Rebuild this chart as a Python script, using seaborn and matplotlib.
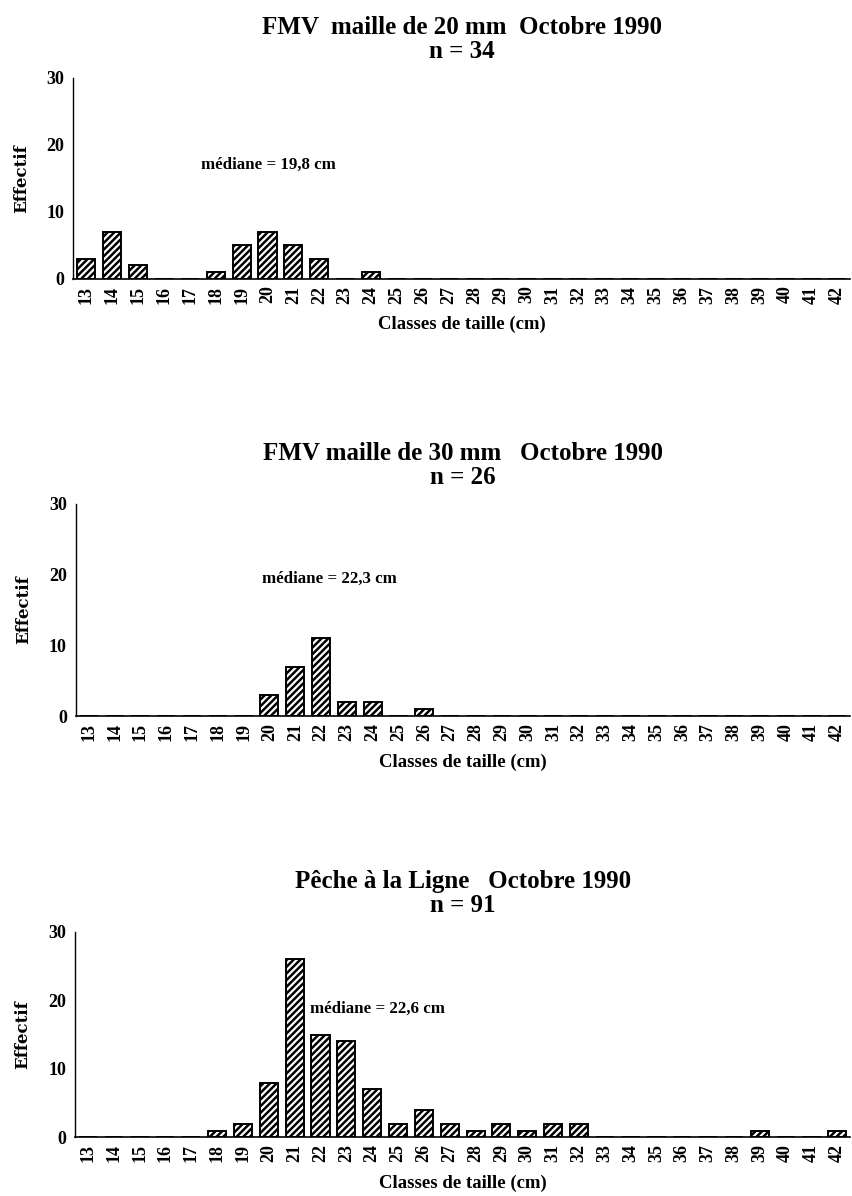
import pandas as pd
import seaborn as sns
import matplotlib.pyplot as plt
from matplotlib.ticker import FixedLocator

# size classes (cm) shared by the three panels
classes = ['13', '14', '15', '16', '17', '18', '19', '20', '21', '22',
           '23', '24', '25', '26', '27', '28', '29', '30', '31', '32',
           '33', '34', '35', '36', '37', '38', '39', '40', '41', '42']

counts_20mm = [3, 7, 2, 0, 0, 1, 5, 7, 5, 3,
               0, 1, 0, 0, 0, 0, 0, 0, 0, 0,
               0, 0, 0, 0, 0, 0, 0, 0, 0, 0]
counts_30mm = [0, 0, 0, 0, 0, 0, 0, 3, 7, 11,
               2, 2, 0, 1, 0, 0, 0, 0, 0, 0,
               0, 0, 0, 0, 0, 0, 0, 0, 0, 0]
counts_ligne = [0, 0, 0, 0, 0, 1, 2, 8, 26, 15,
                14, 7, 2, 4, 2, 1, 2, 1, 2, 2,
                0, 0, 0, 0, 0, 0, 1, 0, 0, 1]

titles = ['FMV  maille de 20 mm  Octobre 1990\nn = 34',
          'FMV maille de 30 mm   Octobre 1990\nn = 26',
          'Pêche à la Ligne   Octobre 1990\nn = 91']
medians = ['médiane = 19,8 cm', 'médiane = 22,3 cm', 'médiane = 22,6 cm']
median_pos = [(4.45, 17.0), (6.7, 19.4), (8.6, 18.7)]

sns.set_style('white')
plt.rcParams['font.family'] = ['Liberation Serif', 'DejaVu Serif']
plt.rcParams['font.weight'] = 'bold'
plt.rcParams['hatch.linewidth'] = 1.8
for key in ['text.color', 'axes.labelcolor', 'xtick.color', 'ytick.color', 'axes.edgecolor']:
    plt.rcParams[key] = 'black'

fig = plt.figure(figsize=(8.52, 11.96), dpi=100)
axes_pos = [[0.086, 0.767, 0.912, 0.168],
            [0.089, 0.401, 0.909, 0.178],
            [0.088, 0.049, 0.910, 0.172]]

for i, counts in enumerate([counts_20mm, counts_30mm, counts_ligne]):
    ax = fig.add_axes(axes_pos[i])
    df = pd.DataFrame({'classe': classes, 'effectif': counts})
    sns.barplot(data=df, x='classe', y='effectif', order=classes, ax=ax,
                color='white', edgecolor='black', linewidth=1.4,
                hatch='/////', width=0.7, saturation=1)
    ax.set_xlim(-0.5, len(classes) - 0.5)
    ax.set_ylim(0, 30)
    ax.set_yticks([0, 10, 20, 30])
    ax.tick_params(axis='y', direction='inout', length=5, width=1,
                   labelsize=13, pad=4)
    ax.tick_params(axis='x', which='major', length=0, labelsize=13,
                   labelrotation=90, pad=5)
    ax.xaxis.set_minor_locator(FixedLocator([k - 0.5 for k in range(len(classes) + 1)]))
    ax.tick_params(axis='x', which='minor', direction='inout', length=5, width=1)
    for lab in ax.get_xticklabels() + ax.get_yticklabels():
        lab.set_fontweight('bold')
    sns.despine(ax=ax)
    ax.spines['left'].set_linewidth(1)
    ax.spines['bottom'].set_linewidth(1.2)
    ax.set_xlabel('Classes de taille (cm)', fontsize=13.5, fontweight='bold', labelpad=9)
    ax.set_ylabel('Effectif', fontsize=12, fontweight='bold', family='DejaVu Serif', labelpad=12)
    ax.set_title(titles[i], fontsize=18, fontweight='bold', linespacing=1.08, pad=14)
    x, y = median_pos[i]
    ax.text(x, y, medians[i], fontsize=12.2, fontweight='bold', ha='left', va='center')

fig.savefig('out.png', dpi=100)
